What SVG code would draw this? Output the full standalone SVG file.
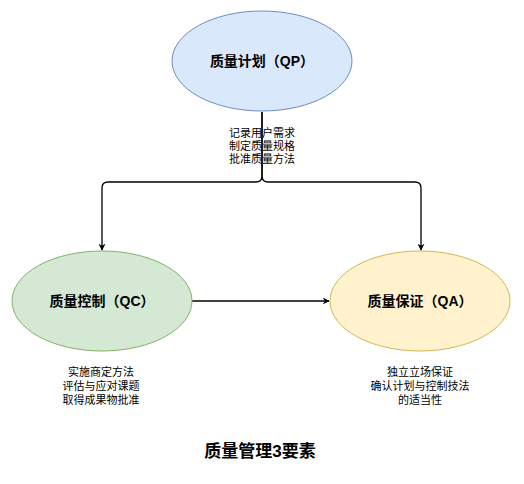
<svg xmlns="http://www.w3.org/2000/svg" width="524" height="484" viewBox="0 0 524 484">
<defs>
<style>
.lbl{font-family:"Liberation Sans","Noto Sans CJK SC",sans-serif;font-size:14px;font-weight:bold;fill:#000;text-anchor:middle}
.note{font-family:"Liberation Sans","Noto Sans CJK SC",sans-serif;font-size:11px;fill:#000;text-anchor:middle}
.title{font-family:"Liberation Sans","Noto Sans CJK SC",sans-serif;font-size:17px;font-weight:bold;fill:#000;text-anchor:middle}
.edge{fill:none;stroke:#000;stroke-width:1.3}
</style>
<marker id="arr" viewBox="0 0 10 10" refX="9" refY="5" markerWidth="7" markerHeight="7" orient="auto" markerUnits="userSpaceOnUse">
<path d="M0,0 L10,5 L0,10 L3,5 Z" fill="#000"/>
</marker>
</defs>
<rect width="524" height="484" fill="#fff"/>
<g id="connectors">
<path class="edge" d="M262,112 V176 Q262,182 256,182 H108 Q102,182 102,188 V250" marker-end="url(#arr)"/>
<path class="edge" d="M262,112 V176 Q262,182 268,182 H415 Q421,182 421,188 V250" marker-end="url(#arr)"/>
<path class="edge" d="M192,301 H329" marker-end="url(#arr)"/>
</g>
<g id="qp">
<ellipse cx="262" cy="61" rx="90" ry="50" fill="#dae8fc" stroke="#6c8ebf"/>
<text class="lbl" x="262" y="66">质量计划（QP）</text>
</g>
<g id="qp-note">
<text class="note" x="262" y="137">记录用户需求</text>
<text class="note" x="262" y="150">制定质量规格</text>
<text class="note" x="262" y="163">批准质量方法</text>
</g>
<g id="qc">
<ellipse cx="102" cy="301" rx="90" ry="50" fill="#d5e8d4" stroke="#82b366"/>
<text class="lbl" x="102" y="306">质量控制（QC）</text>
</g>
<g id="qc-note">
<text class="note" x="101" y="376">实施商定方法</text>
<text class="note" x="101" y="390">评估与应对课题</text>
<text class="note" x="101" y="404">取得成果物批准</text>
</g>
<g id="qa">
<ellipse cx="420" cy="301" rx="90" ry="50" fill="#fff2cc" stroke="#d6b656"/>
<text class="lbl" x="420" y="306">质量保证（QA）</text>
</g>
<g id="qa-note">
<text class="note" x="420" y="376">独立立场保证</text>
<text class="note" x="420" y="390">确认计划与控制技法</text>
<text class="note" x="420" y="404">的适当性</text>
</g>
<g id="title">
<text class="title" x="260" y="457">质量管理3要素</text>
</g>
</svg>
